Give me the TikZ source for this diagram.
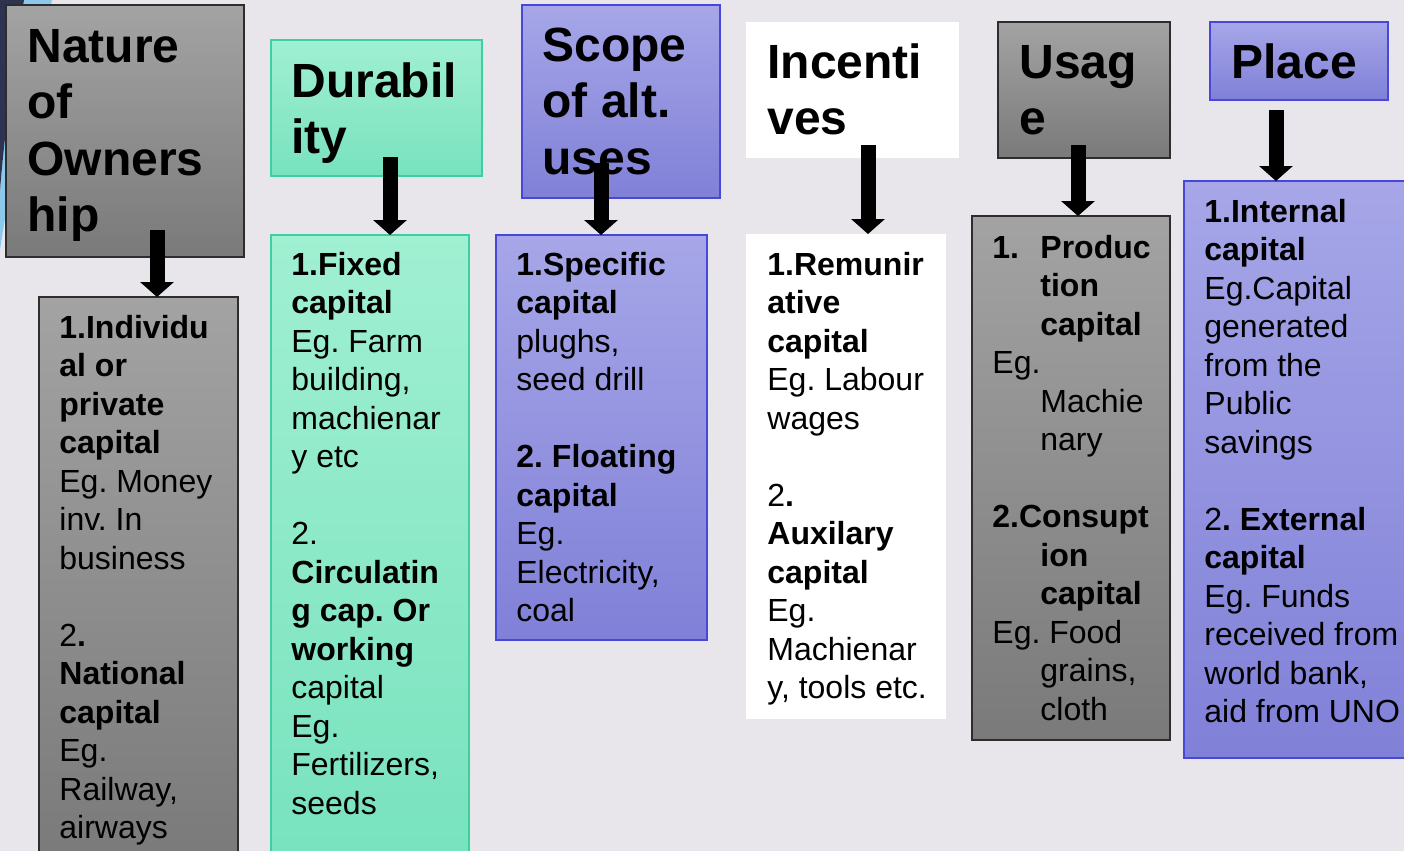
\documentclass[tikz,border=0pt]{standalone}
\usepackage{fontspec}
\setmainfont{Liberation Sans}
\usetikzlibrary{arrows.meta}
\frenchspacing

\definecolor{slide}{RGB}{232,230,234}
\definecolor{navy}{RGB}{46,52,80}
\definecolor{skyblue}{RGB}{140,200,235}
\definecolor{graytop}{RGB}{163,163,163}
\definecolor{graybot}{RGB}{122,122,122}
\definecolor{grayline}{RGB}{45,45,45}
\definecolor{greentop}{RGB}{160,240,210}
\definecolor{greenbot}{RGB}{120,226,190}
\definecolor{greenline}{RGB}{60,208,160}
\definecolor{bluetop}{RGB}{166,166,232}
\definecolor{bluebot}{RGB}{128,128,216}
\definecolor{blueline}{RGB}{72,72,216}

\newcommand\hdrstrut{\rule{0pt}{19.8pt}}
\newcommand\txtstrut{\rule{0pt}{13.5pt}}
\newcommand\indentB{\hspace*{24pt}}

\begin{document}
\begin{tikzpicture}[x=0.5pt,y=-0.5pt,>={Triangle[width=16.5pt,length=7.5pt]},
    box/.style={anchor=north west,inner sep=0pt,outer sep=0pt,line width=.75pt},
    graybox/.style={box,draw=grayline,top color=graytop,bottom color=graybot},
    greenbox/.style={box,draw=greenline,top color=greentop,bottom color=greenbot},
    bluebox/.style={box,draw=blueline,top color=bluetop,bottom color=bluebot},
    whitebox/.style={box,fill=white},
    hdr/.style={anchor=north west,inner sep=0pt,align=left,font=\fontsize{24pt}{28.25pt}\selectfont\bfseries},
    txt/.style={anchor=north west,inner sep=0pt,align=left,font=\fontsize{16pt}{19.25pt}\selectfont\frenchspacing},
    arr/.style={->,line width=7.5pt}]

    \useasboundingbox (0,0) rectangle (1404,851);
    \clip (0,0) rectangle (1404,851);
    \fill [slide] (0,0) rectangle (1404,851);

    % corner of the slide
    \fill [skyblue] (24,0) -- (52,0) .. controls (35,80) and (10,180) .. (0,250)
        -- (0,190) .. controls (5,130) and (14,60) .. (24,0) -- cycle;
    \fill [navy] (0,0) -- (24,0) .. controls (14,60) and (5,130) .. (0,190) -- cycle;

    % headings
    \node [graybox, minimum width=119pt, minimum height=126pt] (own) at (6,5) {};
    \node [greenbox, minimum width=105.5pt, minimum height=68pt] (dur) at (271,40) {};
    \node [bluebox, minimum width=99pt, minimum height=96.5pt] (scope) at (522,5) {};
    \node [whitebox, minimum width=106.5pt, minimum height=68pt] (inc) at (746,22) {};
    \node [graybox, minimum width=86pt, minimum height=68pt] (use) at (998,22) {};
    \node [bluebox, minimum width=89pt, minimum height=39pt] (place) at (1210,22) {};

    \node [hdr] (ownT) at (27,22.4) {\hdrstrut Nature\\of\\Owners\\hip};
    \node [hdr] (durT) at (291,57.4) {\hdrstrut Durabil\\ity};
    \node [hdr] (scopeT) at (542,21.4) {\hdrstrut Scope\\of alt.\\uses};
    \node [hdr] (incT) at (767,38.4) {\hdrstrut Incenti\\ves};
    \node [hdr] (useT) at (1019,38.4) {\hdrstrut Usag\\e};
    \node [hdr] (placeT) at (1231,38.4) {\hdrstrut Place};

    % kinds
    \node [graybox, minimum width=99.5pt, minimum height=281.5pt] (own2) at (39,297) {};
    \node [greenbox, minimum width=99pt, minimum height=312.5pt] (dur2) at (271,235) {};
    \node [bluebox, minimum width=105.5pt, minimum height=202.5pt] (scope2) at (496,235) {};
    \node [whitebox, minimum width=100pt, minimum height=242.5pt] (inc2) at (746,234) {};
    \node [graybox, minimum width=99pt, minimum height=262pt] (use2) at (972,216) {};
    \node [bluebox, minimum width=118pt, minimum height=288.5pt] (place2) at (1184,181) {};

    \node [txt] (own2T) at (59,311) {\txtstrut\textbf{1.Individu}\\ \textbf{al or}\\ \textbf{private}\\
        \textbf{capital}\\ Eg. Money\\ inv. In\\ business\\ \\ 2\textbf{.}\\ \textbf{National}\\
        \textbf{capital}\\ Eg.\\ Railway,\\ airways};
    \node [txt] (dur2T) at (291,248) {\txtstrut\textbf{1.Fixed}\\ \textbf{capital}\\ Eg. Farm\\ building,\\
        machienar\\ y etc\\ \\ 2.\\ \textbf{Circulatin}\\ \textbf{g cap. Or}\\ \textbf{working}\\
        capital\\ Eg.\\ Fertilizers,\\ seeds};
    \node [txt] (scope2T) at (516,248) {\txtstrut\textbf{1.Specific}\\ \textbf{capital}\\ plughs,\\
        seed drill\\ \\ \textbf{2. Floating}\\ \textbf{capital}\\ Eg.\\ Electricity,\\ coal};
    \node [txt] (inc2T) at (767,248) {\txtstrut\textbf{1.Remunir}\\ \textbf{ative}\\ \textbf{capital}\\
        Eg. Labour\\ wages\\ \\ 2\textbf{.}\\ \textbf{Auxilary}\\ \textbf{capital}\\ Eg.\\
        Machienar\\ y, tools etc.};
    \node [txt] (use2T) at (992,231) {\txtstrut\makebox[24pt][l]{\textbf{1.}}\textbf{Produc}\\
        \indentB\textbf{tion}\\ \indentB\textbf{capital}\\ Eg.\\ \indentB Machie\\ \indentB nary\\ \\
        \textbf{2.Consupt}\\ \indentB\textbf{ion}\\ \indentB\textbf{capital}\\ Eg. Food\\
        \indentB grains,\\ \indentB cloth};
    \node [txt] (place2T) at (1204,195) {\txtstrut\textbf{1.Internal}\\ \textbf{capital}\\ Eg.Capital\\
        generated\\ from the\\ Public\\ savings\\ \\ 2\textbf{. External}\\ \textbf{capital}\\
        Eg. Funds\\ received from\\ world bank,\\ aid from UNO};

    % arrows
    \coordinate (a1) at (157,230);
    \coordinate (a2) at (390,157);
    \coordinate (a3) at (601,163);
    \coordinate (a4) at (868,145);
    \coordinate (a5) at (1078,145);
    \coordinate (a6) at (1276,110);

    \draw [arr] (a1) -- (a1 |- own2.north);
    \draw [arr] (a2) -- (a2 |- dur2.north);
    \draw [arr] (a3) -- (a3 |- scope2.north);
    \draw [arr] (a4) -- (a4 |- inc2.north);
    \draw [arr] (a5) -- (a5 |- use2.north);
    \draw [arr] (a6) -- (a6 |- place2.north);

\end{tikzpicture}
\end{document}
